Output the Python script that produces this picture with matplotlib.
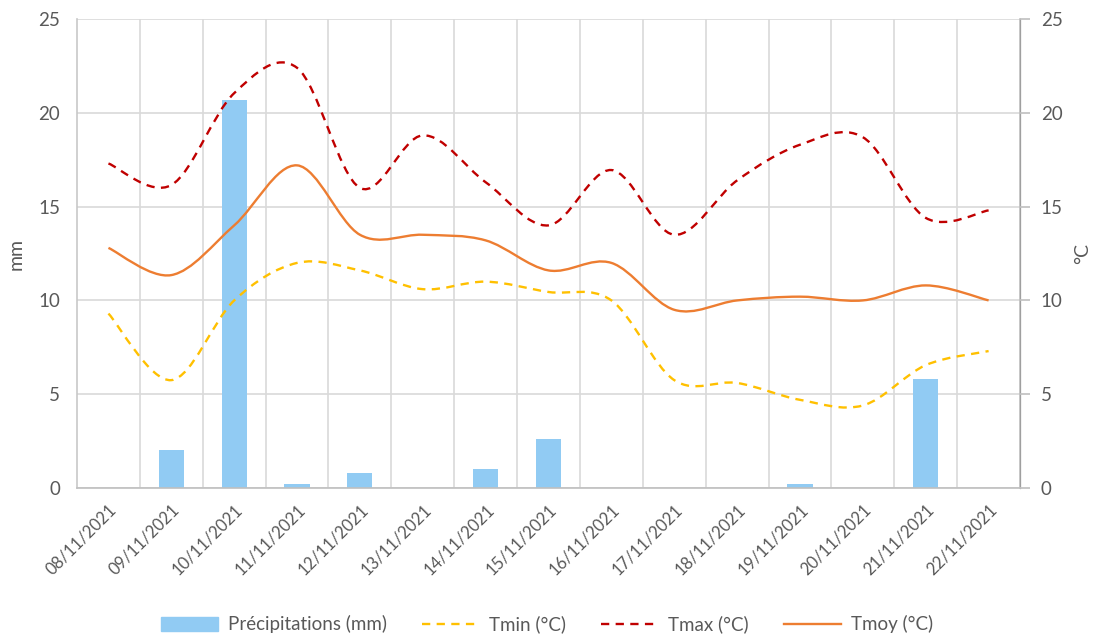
import numpy as np
import matplotlib.pyplot as plt
from matplotlib.path import Path
from matplotlib.patches import PathPatch
from matplotlib.lines import Line2D

plt.rcParams['font.family'] = ['Lato', 'DejaVu Sans']

dates = ['08/11/2021', '09/11/2021', '10/11/2021', '11/11/2021', '12/11/2021',
         '13/11/2021', '14/11/2021', '15/11/2021', '16/11/2021', '17/11/2021',
         '18/11/2021', '19/11/2021', '20/11/2021', '21/11/2021', '22/11/2021']
precip = [0, 2.0, 20.7, 0.2, 0.8, 0, 1.0, 2.6, 0, 0, 0, 0.2, 0, 5.8, 0]
tmin = [9.3, 5.75, 10.0, 12.0, 11.6, 10.6, 11.0, 10.45, 10.0, 5.75, 5.6, 4.7, 4.4, 6.55, 7.3]
tmax = [17.3, 16.15, 21.05, 22.4, 16.0, 18.8, 16.3, 14.0, 16.95, 13.5, 16.4, 18.3, 18.7, 14.4, 14.8]
tmoy = [12.8, 11.35, 14.0, 17.2, 13.5, 13.5, 13.2, 11.6, 12.0, 9.5, 10.0, 10.2, 10.0, 10.8, 10.0]

GRID = '#d9d9d9'
TXT = '#595959'


def smooth_path(x, y):
    # cubic Bezier through every point, tangents from neighbouring points
    pts = np.column_stack([x, y]).astype(float)
    ext = np.vstack([pts[0], pts, pts[-1]])
    verts = [pts[0]]
    codes = [Path.MOVETO]
    for i in range(len(pts) - 1):
        p0, p1, p2, p3 = ext[i], ext[i + 1], ext[i + 2], ext[i + 3]
        verts += [p1 + (p2 - p0) / 6, p2 - (p3 - p1) / 6, p2]
        codes += [Path.CURVE4] * 3
    return Path(verts, codes)


fig = plt.figure(figsize=(10.94, 6.35), dpi=100)
ax = fig.add_axes([0.0704, 0.2315, 0.862, 0.7385])
x = np.arange(len(dates))

ax.bar(x, precip, width=0.4, color='#91CBF3', zorder=2)
ax.set_xlim(-0.5, len(dates) - 0.5)
ax.set_ylim(0, 25)
ax.set_yticks(range(0, 26, 5))
ax.set_xticks(x)
ax.set_xticklabels(dates, rotation=45, ha='right', va='top', rotation_mode='anchor',
                   fontsize=12, color=TXT)
ax.tick_params(axis='x', length=0, pad=10)
ax.tick_params(axis='y', length=0, pad=12, labelsize=13.5, labelcolor=TXT)
ax.set_xticks(np.arange(0.5, len(dates) - 1, 1), minor=True)
ax.tick_params(axis='x', which='minor', length=0)
ax.grid(axis='y', color=GRID, lw=1.2, zorder=0)
ax.grid(axis='x', which='minor', color=GRID, lw=1.2, zorder=0)
ax.set_axisbelow(True)
ax.spines['top'].set_visible(False)
ax.spines['left'].set_color('#c8c8c8')
ax.spines['bottom'].set_color('#bfbfbf')
ax.spines['left'].set_linewidth(1.2)
ax.spines['bottom'].set_linewidth(1.2)
ax.set_ylabel('mm', fontsize=14, color=TXT, labelpad=10)

ax2 = ax.twinx()
ax2.set_ylim(0, 25)
ax2.set_yticks(range(0, 26, 5))
ax2.tick_params(axis='y', length=7, width=1.2, color='#bfbfbf', pad=8,
                labelsize=13.5, labelcolor=TXT)
for s in ['top', 'left', 'bottom']:
    ax2.spines[s].set_visible(False)
ax2.spines['right'].set_color('#bfbfbf')
ax2.spines['right'].set_linewidth(1.2)
ax2.set_ylabel('°C', fontsize=14, color=TXT, labelpad=8)

series = [
    (tmin, '#FFC000', (0, (3.5, 2.7)), 'Tmin (°C)'),
    (tmax, '#C00000', (0, (3.5, 2.7)), 'Tmax (°C)'),
    (tmoy, '#ED7D31', '-', 'Tmoy (°C)'),
]
handles = [plt.Rectangle((0, 0), 1, 1, color='#91CBF3', label='Précipitations (mm)')]
for vals, col, ls, lab in series:
    patch = PathPatch(smooth_path(x, vals), facecolor='none', edgecolor=col,
                      lw=1.7, linestyle=ls, capstyle='butt', zorder=3)
    ax2.add_patch(patch)
    handles.append(Line2D([], [], color=col, lw=1.7, linestyle=ls, label=lab))

fig.legend(handles=handles, loc='lower center', bbox_to_anchor=(0.5, -0.024), ncol=4,
           frameon=False, fontsize=13.5, handlelength=3.05, handleheight=0.75,
           columnspacing=1.9, handletextpad=0.5, labelcolor=TXT)

fig.savefig('out.png', dpi=100)
